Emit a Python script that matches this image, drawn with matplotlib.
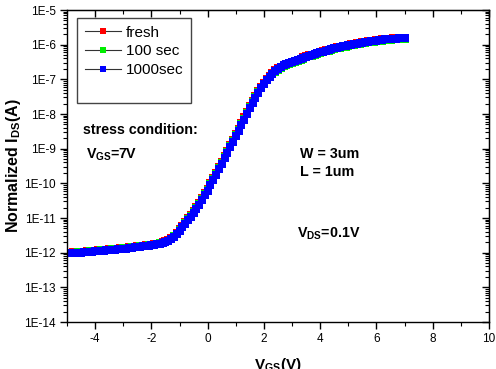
import numpy as np
import matplotlib
matplotlib.use("Agg")
import matplotlib.pyplot as plt
from matplotlib.ticker import LogLocator, FixedLocator, NullFormatter
from matplotlib.lines import Line2D

plt.rcParams['font.family'] = ['Liberation Sans', 'DejaVu Sans']
plt.rcParams['mathtext.fontset'] = 'custom'
plt.rcParams['mathtext.rm'] = 'Liberation Sans:bold'
plt.rcParams['mathtext.it'] = 'Liberation Sans:bold'
plt.rcParams['mathtext.bf'] = 'Liberation Sans:bold'

# Gate voltage sweep (V), 0.1 V steps from -5 to 7
vgs = np.round(np.arange(-5.0, 7.0001, 0.1), 2)

# log10 of normalized drain current
log_ids_1000 = [
    -12.02, -12.02, -12.01, -12.01, -12.00, -12.00, -11.99, -11.98, -11.97, -11.97,
    -11.96, -11.95, -11.94, -11.94, -11.93, -11.92, -11.91, -11.91, -11.90, -11.89,
    -11.88, -11.88, -11.87, -11.86, -11.85, -11.84, -11.83, -11.82, -11.81, -11.80,
    -11.79, -11.78, -11.76, -11.74, -11.72, -11.69, -11.66, -11.61, -11.55, -11.47,
    -11.38, -11.27, -11.16, -11.06, -10.96, -10.86, -10.74, -10.62, -10.48, -10.35,
    -10.21, -10.06, -9.91, -9.76, -9.60, -9.44, -9.28, -9.12, -8.96, -8.80,
    -8.64, -8.48, -8.32, -8.16, -8.00, -7.84, -7.68, -7.53, -7.39, -7.26,
    -7.14, -7.03, -6.93, -6.84, -6.76, -6.70, -6.65, -6.60, -6.56, -6.53,
    -6.50, -6.47, -6.44, -6.41, -6.38, -6.35, -6.32, -6.30, -6.27, -6.25,
    -6.22, -6.20, -6.17, -6.15, -6.13, -6.11, -6.09, -6.07, -6.05, -6.04,
    -6.02, -6.00, -5.99, -5.97, -5.96, -5.94, -5.93, -5.91, -5.90, -5.89,
    -5.88, -5.87, -5.86, -5.85, -5.85, -5.84, -5.83, -5.83, -5.82, -5.82,
    -5.81,
]
log_ids_fresh = [
    -12.00, -12.00, -11.99, -11.99, -11.98, -11.98, -11.97, -11.96, -11.95, -11.95,
    -11.94, -11.93, -11.92, -11.92, -11.91, -11.90, -11.89, -11.89, -11.88, -11.87,
    -11.86, -11.86, -11.85, -11.84, -11.83, -11.82, -11.81, -11.80, -11.79, -11.78,
    -11.77, -11.76, -11.74, -11.72, -11.70, -11.67, -11.63, -11.58, -11.51, -11.43,
    -11.33, -11.22, -11.11, -11.01, -10.91, -10.80, -10.68, -10.56, -10.42, -10.29,
    -10.15, -10.00, -9.85, -9.70, -9.54, -9.38, -9.22, -9.06, -8.90, -8.74,
    -8.58, -8.42, -8.26, -8.10, -7.94, -7.78, -7.63, -7.48, -7.35, -7.22,
    -7.10, -6.99, -6.90, -6.81, -6.74, -6.68, -6.63, -6.59, -6.55, -6.52,
    -6.49, -6.46, -6.43, -6.40, -6.37, -6.34, -6.31, -6.29, -6.26, -6.24,
    -6.21, -6.19, -6.16, -6.14, -6.12, -6.10, -6.08, -6.06, -6.04, -6.03,
    -6.01, -5.99, -5.98, -5.96, -5.95, -5.93, -5.92, -5.90, -5.89, -5.88,
    -5.87, -5.86, -5.85, -5.84, -5.84, -5.83, -5.82, -5.82, -5.81, -5.81,
    -5.80,
]
log_ids_100 = [
    -12.01, -12.01, -12.00, -12.00, -11.99, -11.99, -11.98, -11.97, -11.96, -11.96,
    -11.95, -11.94, -11.93, -11.93, -11.92, -11.91, -11.90, -11.90, -11.89, -11.88,
    -11.87, -11.87, -11.86, -11.85, -11.84, -11.83, -11.82, -11.81, -11.80, -11.79,
    -11.78, -11.77, -11.75, -11.73, -11.71, -11.68, -11.65, -11.60, -11.53, -11.45,
    -11.36, -11.25, -11.14, -11.04, -10.94, -10.83, -10.71, -10.59, -10.45, -10.32,
    -10.18, -10.03, -9.88, -9.73, -9.57, -9.41, -9.25, -9.09, -8.93, -8.77,
    -8.61, -8.45, -8.29, -8.13, -7.97, -7.81, -7.66, -7.51, -7.37, -7.25,
    -7.13, -7.03, -6.93, -6.85, -6.78, -6.72, -6.67, -6.62, -6.58, -6.55,
    -6.52, -6.49, -6.46, -6.43, -6.40, -6.37, -6.34, -6.32, -6.29, -6.27,
    -6.24, -6.22, -6.19, -6.17, -6.15, -6.13, -6.11, -6.09, -6.07, -6.06,
    -6.04, -6.02, -6.01, -5.99, -5.98, -5.96, -5.95, -5.93, -5.92, -5.91,
    -5.90, -5.89, -5.88, -5.87, -5.87, -5.86, -5.85, -5.85, -5.84, -5.84,
    -5.83,
]

series_labels = ["fresh", "100 sec", "1000sec"]
series_colors = ["#ff0000", "#00ee00", "#0000ff"]
series_data = [log_ids_fresh, log_ids_100, log_ids_1000]

y_ticks = [1e-14, 1e-13, 1e-12, 1e-11, 1e-10, 1e-9, 1e-8, 1e-7, 1e-6, 1e-5]
y_tick_labels = ["1E-14", "1E-13", "1E-12", "1E-11", "1E-10", "1E-9", "1E-8", "1E-7", "1E-6", "1E-5"]
x_ticks = [-4, -2, 0, 2, 4, 6, 8, 10]
x_minor = [-5, -3, -1, 1, 3, 5, 7, 9]

W, H = 496, 369
fig = plt.figure(figsize=(W / 100, H / 100), dpi=100)
ax = fig.add_axes([67 / W, 1 - 322 / H, (489 - 67) / W, (322 - 10) / H])

handles = []
for lab, col, data in zip(series_labels, series_colors, series_data):
    h, = ax.plot(vgs, 10.0 ** np.array(data), '-', color='#333333', lw=0.8,
                 marker='s', ms=6.0, mfc=col, mec=col, mew=0, label=lab)
    handles.append(h)

ax.set_yscale('log')
ax.set_xlim(-5, 10)
ax.set_ylim(1e-14, 1e-5)
ax.yaxis.set_major_locator(FixedLocator(y_ticks))
ax.set_yticklabels(y_tick_labels)
ax.yaxis.set_minor_locator(LogLocator(base=10, subs=np.arange(2, 10) * 1.0, numticks=50))
ax.yaxis.set_minor_formatter(NullFormatter())
ax.xaxis.set_major_locator(FixedLocator(x_ticks))
ax.xaxis.set_minor_locator(FixedLocator(x_minor))
ax.set_xticklabels([str(t) for t in x_ticks])

for sp in ax.spines.values():
    sp.set_linewidth(1.0)
ax.tick_params(which='major', direction='out', length=5, width=1.0, labelsize=8.5, pad=3)
ax.tick_params(which='minor', direction='out', length=3, width=0.8)

# mirrored top / right axes with inward ticks
secx = ax.secondary_xaxis('top')
secx.xaxis.set_major_locator(FixedLocator(x_ticks))
secx.xaxis.set_minor_locator(FixedLocator(x_minor))
secx.tick_params(which='major', direction='in', length=5, width=1.0, labeltop=False)
secx.tick_params(which='minor', direction='in', length=3, width=0.8)
secy = ax.secondary_yaxis('right')
secy.set_yscale('log')
secy.yaxis.set_major_locator(FixedLocator(y_ticks))
secy.yaxis.set_minor_locator(LogLocator(base=10, subs=np.arange(2, 10) * 1.0, numticks=50))
secy.yaxis.set_minor_formatter(NullFormatter())
secy.tick_params(which='major', direction='in', length=5, width=1.0, labelright=False)
secy.tick_params(which='minor', direction='in', length=3, width=0.8)

ax.set_xlabel(r"V$_{GS}$(V)", fontsize=11, fontweight='bold', labelpad=8)
ax.set_ylabel(r"Normalized I$_{DS}$(A)", fontsize=11.5, fontweight='bold', labelpad=1)

pad_handle = Line2D([], [], color='none')
leg = ax.legend(handles + [pad_handle], series_labels + [" "], loc='upper left',
                bbox_to_anchor=(0.024, 0.974), fontsize=11, frameon=True, fancybox=False,
                edgecolor='#444444', framealpha=1, handlelength=2.4, handletextpad=0.3,
                labelspacing=0.3, borderpad=0.5, borderaxespad=0)
leg.get_frame().set_linewidth(1.0)
for ln in leg.get_lines()[:3]:
    ln.set_markersize(4.5)
    ln.set_color('#333333')

def ftext(x, y, s, **kw):
    fig.text(x / W, 1 - y / H, s, fontsize=10.3, fontweight='bold', va='center', ha='left', **kw)

ftext(83, 130, "stress condition:")
ftext(86, 155, r"V$_{GS}$=7V")
ftext(300, 154, "W = 3um")
ftext(300, 172, "L = 1um")
ftext(297, 234, r"V$_{DS}$=0.1V")

fig.savefig("out.png", dpi=100)
